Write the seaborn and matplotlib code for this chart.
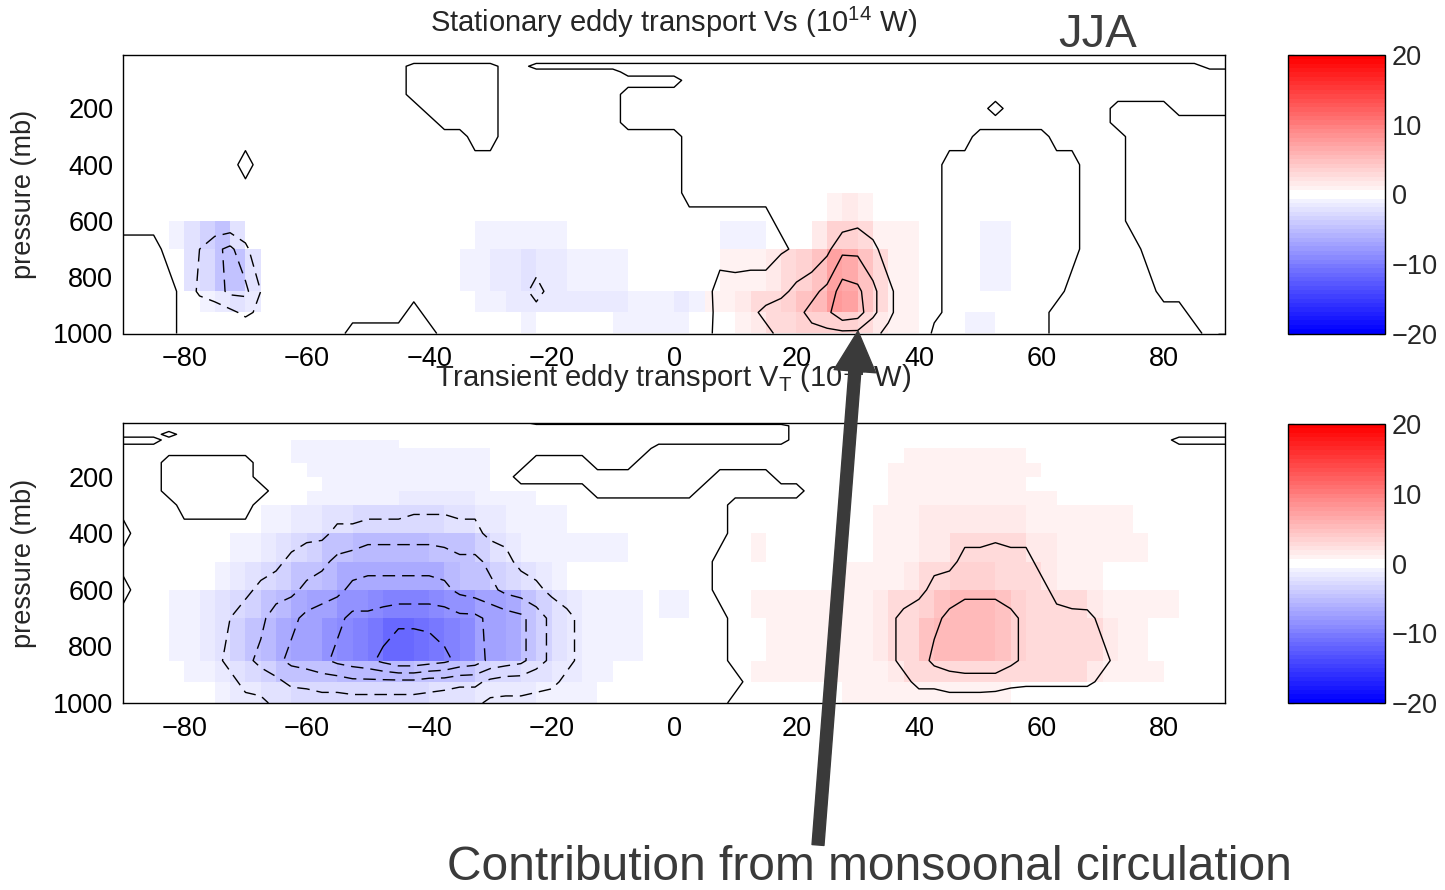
import numpy as np
import matplotlib
matplotlib.use("Agg")
import matplotlib.pyplot as plt
import seaborn as sns
from matplotlib.colors import ListedColormap
from matplotlib.patches import FancyArrowPatch

sns.set_style("white")
plt.rcParams["font.family"] = ["Liberation Sans", "DejaVu Sans"]
plt.rcParams["mathtext.fontset"] = "custom"
plt.rcParams["mathtext.rm"] = "Liberation Sans"
plt.rcParams["mathtext.it"] = "Liberation Sans:italic"
plt.rcParams["mathtext.bf"] = "Liberation Sans:bold"

# Grid: latitude nodes every 2.5 deg, standard pressure levels (mb)
lat = np.linspace(-90, 90, 73)
pressure = np.array([10, 20, 30, 50, 70, 100, 150, 200, 250, 300,
                     400, 500, 600, 700, 850, 925, 1000])

# Field codes, one string per pressure level (10 mb first), 73 latitudes each.
# '.' = +0.2, ',' = -0.2, 'a' = +0.8, 'b'..'z' = +1.0 .. +13.0 in 0.5 steps,
# upper case = the same magnitudes negative.  Groups of 8 = 20 deg of latitude.
stationary_rows = [
    ",,,,,,,, ,,,,,,,, ,,,,,,,, ,,,,,,,, ,,,,,,,, ,,,,,,,, ,,,,,,,, ,,,,,,,, ,,,,,,,, ,",
    ",,,,,,,, ,,,,,,,, ,,,,,,,, ,,,,,,,, ,,,,,,,, ,,,,,,,, ,,,,,,,, ,,,,,,,, ,,,,,,,, ,",
    ",,,,,,,, ,,,,,,,, ,,,,,,,, ,,,,,,,, ,,,,,,,, ,,,,,,,, ,,,,,,,, ,,,,,,,, ,,,,,,,, ,",
    ",,,,,,,, ,,,,,,,, ,,,..... .,,..... ........ ........ ........ ........ ......., ,",
    ",,,,,,,, ,,,,,,,, ,,,..... .,,,,,,, ,....... ........ ........ ........ ........ .",
    ",,,,,,,, ,,,,,,,, ,,,..... .,,,,,,, ,,,,,... ........ ........ ........ ........ .",
    ",,,,,,,, ,,,,,,,, ,,,..... .,,,,,,, ,....... ........ ........ ........ ........ .",
    ",,,,,,,, ,,,,,,,, ,,,,.... .,,,,,,, ,....... ........ ........ .,...... .,,,,... .",
    ",,,,,,,, ,,,,,,,, ,,,,,... .,,,,,,, ,....... ........ ........ ........ .,,,,,,, ,",
    ",,,,,,,, ,,,,,,,, ,,,,,,,. .,,,,,,, ,,,,,... ........ ........ ,,,,,... ..,,,,,, ,",
    ",,,,,,,, .,,,,,,, ,,,,,,,, ,,,,,,,, ,,,,,... ........ ......,, ,,,,,,,. ..,,,,,, ,",
    ",,,,,,,, ,,,,,,,, ,,,,,,,, ,,,,,,,, ,,,,,... ........ ......,, ,,,,,,,. ..,,,,,, ,",
    ",,,,,,,, ,,,,,,,, ,,,,,,,, ,,,,,,,, ,,,,,,,, ,,,....b cb....,, ,,,,,,,. ..,,,,,, ,",
    "...,BDGI E,,,,,,, ,,,,,,,, BBBBBB,, ,,,,,,,, BBB,..cg gebaa.,, ,BB,,,,. ...,,,,, ,",
    "....,EFI ID,,,,,, ,,,,,,,A BCCECCBB BA,,,,,. abbcegin mieba.,, ,BB,,,.. ....,,,, ,",
    "....,,BC EC,,,,,, ,,,.,,,, BBCCCCCC CCBBBCBa bcefgiko nieba.,, ,,,,,... ......,, ,",
    "....,,,, ,,,,,,,. .....,,, ,,,B,,,, ,BBBBB,. .bcefggg gecba,,, AA,,,... ......., ,",
]

transient_rows = [
    ",,,,,,,, ,,,,,,,, ,,,,,,,, ,,,..... ........ ........ ........ ........ ........ .",
    ",,,,,,,, ,,,,,,,, ,,,,,,,, ,,,,,,,, ,,,,,,,, ,,,,.... ........ ........ ........ .",
    ",,,,,,,, ,,,,,,,, ,,,,,,,, ,,,,,,,, ,,,,,,,, ,,,,.... ........ ........ ........ .",
    ",,,.,,,, ,,,,,,,, ,,,,,,,, ,,,,,,,, ,,,,,,,, ,,,,.... ........ ........ ........ .",
    "...,,,,, ,,,,,,,, ,,,,,,,, ,,,,,,,, ,,,,,,,, ,,,,.... ........ ........ .....,,, ,",
    ",,,,,,,, ,,,,AAAA AAA,,,,, ,,,,,,,, ,,,..... ........ ........ ........ ........ .",
    ",,,..... .,,,AAAA AAAAAAAA A,,...., ,,...... ........ ....aaaa aaaa.... ........ .",
    ",,,..... .,,,,AAA AAAAAAAA A,...... ......., ,,,..... ...aaaab baaaa... ........ .",
    ",,,..... ..,,,,AA AAAAAAAA A,,,,,,. ......,, ,,,,,... ...aaaaa aaaa.... ........ .",
    ",,,,.... .,,,,BBB BBBCCCCC BBBB,,,, ,,,,,,,, ........ ...aaaaa bbaaaa.. ........ .",
    ".,,,,,,, ,,ABCCEE FFFFFFEE CCBBAA,, ,,,,,,,, ........ ..abbccc ccccbbaa aaa..... .",
    ",,,,,,,, ABCEFGIJ KKKKKJII GECBBAAA AA,,,,,. ..a..... ..abbcce efeeccbb aaaa.... .",
    ".,,,,,,B CEFGIJKM MMMMMMKJ IGFECB,, ,,,,,,,. ........ aabbcefg ggffecba a....... .",
    ",,,,ABCD FGJKMNOQ QRSSSRQQ ONMJGECB BAA,AA,, ..aaaaab bbcefgij jjigfeee cbbaaa.. .",
    ",,,,ABCE GIKMNOQR SUWWVUSR ONMJGECB BAA,,,,, ...abbab bbcefijk kkigffee ecba.... .",
    ",,,,,ABC EFGIIJJK KKKKJJII GFFEECCB A,,,,,,, ,.aabaaa abbceeff ffeeeeee cbbaa... .",
    ",,,,,,,B CCEEFFFF FFFFFEEE CCCCBBBA ,,,,,,,, ........ aaabbbbb baa..... ........ .",
]

x_ticks = [-80, -60, -40, -20, 0, 20, 40, 60, 80]
p_ticks = [200, 400, 600, 800, 1000]
cbar_ticks = [-20, -10, 0, 10, 20]
contour_levels = np.arange(-20, 21, 2)

top_title = "Stationary eddy transport Vs (10$^{14}$ W)"
bottom_title = "Transient eddy transport V$_{\\mathrm{T}}$ (10$^{14}$ W)"
season = "JJA"
note = "Contribution from monsoonal circulation"
y_label = "pressure (mb)"


def decode(rows):
    out = []
    for r in rows:
        s = r.replace(" ", "")
        vals = []
        for ch in s:
            if ch == ".":
                vals.append(0.2)
            elif ch == ",":
                vals.append(-0.2)
            elif ch == "a":
                vals.append(0.8)
            elif ch == "A":
                vals.append(-0.8)
            elif ch.islower():
                vals.append(0.5 * (ord(ch) - 96))
            else:
                vals.append(-0.5 * (ord(ch) - 64))
        if len(vals) != lat.size:
            raise ValueError(f"row has {len(vals)} values: {r}")
        out.append(vals)
    return np.array(out)


stationary = decode(stationary_rows)
transient = decode(transient_rows)

# 64-step blue-white-red map; the two bins around zero are plain white
palette = sns.blend_palette(["#0000ff", "#ffffff", "#ff0000"], n_colors=64)
palette[31] = (1.0, 1.0, 1.0)
palette[32] = (1.0, 1.0, 1.0)
cmap = ListedColormap(palette)

W, H = 1445, 890
fig = plt.figure(figsize=(W / 100, H / 100), dpi=100)


def fx(px):
    return px / W


def fy(py):
    return 1 - py / H


def panel(rect_px, cb_px, field):
    l, t, r, b = rect_px
    ax = fig.add_axes([fx(l), fy(b), fx(r - l), (b - t) / H])
    cl, ct, cr, cbm = cb_px
    cax = fig.add_axes([fx(cl), fy(cbm), fx(cr - cl), (cbm - ct) / H])

    mesh = ax.pcolormesh(lat, pressure, field[1:, 1:], cmap=cmap, vmin=-20, vmax=20,
                         shading="flat", antialiased=False, edgecolors="none")
    styles = [(0, (9, 5)) if lv < 0 else "solid" for lv in contour_levels]
    ax.contour(lat, pressure, field, levels=contour_levels, colors="k",
               linewidths=1.0, linestyles=styles)
    ax.set_xlim(-90, 90)
    ax.set_ylim(1000, 10)
    ax.set_xticks(x_ticks)
    ax.set_yticks(p_ticks)
    ax.tick_params(direction="in", length=5, color="#9a9a9a", top=True, right=True,
                   labelsize=19.5, labelcolor="k")
    ax.tick_params(axis="x", pad=9)
    ax.tick_params(axis="y", pad=7)
    for s in ax.spines.values():
        s.set_color("k")
        s.set_linewidth(1.0)

    cb = fig.colorbar(mesh, cax=cax, ticks=cbar_ticks)
    cb.ax.tick_params(direction="in", length=4, labelsize=19.5, left=True, right=True,
                      color="k", pad=5)
    cb.outline.set_linewidth(1.0)
    cb.outline.set_edgecolor("k")
    return ax


ax_top = panel((123, 55, 1225, 333.5), (1288, 55, 1385, 333.5), stationary)
ax_bot = panel((123, 423, 1225, 703), (1288, 424, 1385, 703), transient)

fig.text(fx(673.5), fy(32), top_title, ha="center", va="baseline", fontsize=21)
fig.text(fx(673.5), fy(387), bottom_title, ha="center", va="baseline", fontsize=21)
fig.text(fx(24), fy(194), y_label, rotation=90, ha="center", va="center", fontsize=19.5)
fig.text(fx(24), fy(563), y_label, rotation=90, ha="center", va="center", fontsize=19.5)
fig.text(fx(1098), fy(47), season, ha="center", va="baseline", fontsize=34, color="#3d3d3d")
fig.text(fx(869), fy(889.5), note, ha="center", va="bottom", fontsize=34.5, color="#3a3a3a")

arrow = FancyArrowPatch(posA=(fx(818), fy(845)), posB=(fx(858), fy(331)),
                        transform=fig.transFigure,
                        arrowstyle="simple,head_length=29,head_width=30,tail_width=8.6",
                        mutation_scale=1, color="#3a3a3a", shrinkA=0, shrinkB=0, zorder=10)
fig.add_artist(arrow)

fig.savefig("out.png", dpi=100)
